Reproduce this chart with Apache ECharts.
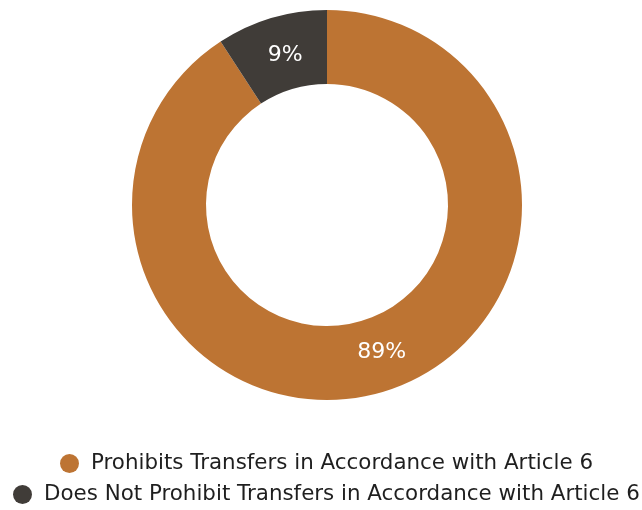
<!DOCTYPE html>
<html>
<head>
<meta charset="utf-8">
<script src="https://cdn.jsdelivr.net/npm/echarts@6/dist/echarts.min.js"></script>
<style>
  html, body { margin: 0; padding: 0; background: #ffffff; }
  #chart { width: 642px; height: 510px; }
</style>
</head>
<body>
<div id="chart"></div>
<script>
// Share of provisions by Article 6 transfer treatment
const categories = [
  'Prohibits Transfers in Accordance with Article 6',
  'Does Not Prohibit Transfers in Accordance with Article 6'
];
const values = [89, 9];
const colors = ['#BD7433', '#403C38'];

const FONT = '"DejaVu Sans", "Noto Sans", sans-serif';
const LEGEND_FONT_SIZE = 21.4;
const ICON = 19;
const TEXT_PAD = 7;
const LEGEND_CENTER_X = 326.5;

const chart = echarts.init(document.getElementById('chart'), null, { renderer: 'canvas' });

// measure each legend entry so it can be centred on the donut's axis
const measureCtx = document.createElement('canvas').getContext('2d');
measureCtx.font = LEGEND_FONT_SIZE + 'px ' + FONT;
function legendLeft(name) {
  const w = ICON + 5 + TEXT_PAD + measureCtx.measureText(name).width;
  return Math.round(LEGEND_CENTER_X - w / 2);
}

const legendCommon = {
  orient: 'horizontal',
  padding: 0,
  icon: 'circle',
  itemWidth: ICON,
  itemHeight: ICON,
  selectedMode: false,
  textStyle: {
    fontFamily: FONT,
    fontSize: LEGEND_FONT_SIZE,
    color: '#1f1f1f',
    padding: [0, 0, 0, TEXT_PAD]
  }
};

// small nudges so each percentage sits where it reads best in its slice
const labelOffsets = [[9, -7], [4, 5]];

chart.setOption({
  animation: false,
  color: colors,
  legend: [
    Object.assign({}, legendCommon, { left: legendLeft(categories[0]), top: 453, data: [categories[0]] }),
    Object.assign({}, legendCommon, { left: legendLeft(categories[1]), top: 484, data: [categories[1]] })
  ],
  series: [{
    type: 'pie',
    center: [327, 205],
    radius: [121, 195],
    startAngle: 90,
    clockwise: true,
    avoidLabelOverlap: false,
    label: {
      show: true,
      position: 'inside',
      formatter: '{c}%',
      color: '#ffffff',
      fontFamily: FONT,
      fontSize: 22
    },
    labelLine: { show: false },
    emphasis: { disabled: true },
    itemStyle: { borderWidth: 0 },
    data: categories.map((name, i) => ({
      name,
      value: values[i],
      label: { offset: labelOffsets[i] }
    }))
  }]
});
</script>
</body>
</html>
